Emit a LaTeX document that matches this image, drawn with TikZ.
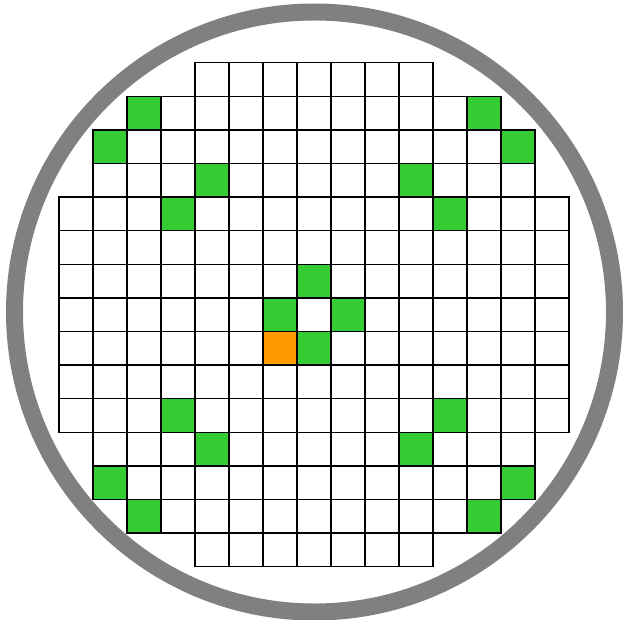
\documentclass[tikz,border=0pt]{standalone}
\definecolor{chipgreen}{RGB}{51,204,51}
\definecolor{chiporange}{RGB}{255,153,0}
\definecolor{wafergray}{RGB}{128,128,128}
\begin{document}
\begin{tikzpicture}[x=1pt,y=-1pt,
  cellbox/.style={draw=black,line width=1.5pt},
  waferring/.style={draw=wafergray,line width=17pt}]
\useasboundingbox (0,0) rectangle (623,620);
\begin{scope}
  \clip (0,0) rectangle (623,620);
  \draw[waferring] (314.5,312) circle[radius=300];
\end{scope}
% coloured dies
\foreach \c/\r in {2/1,12/1,1/2,13/2,4/3,10/3,3/4,11/4,7/6,6/7,8/7,7/8,3/10,11/10,4/11,10/11,1/12,13/12,2/13,12/13}
  \fill[chipgreen] ({59+34*\c},{62.7+33.6*\r}) rectangle ++(34,33.6);
\fill[chiporange] ({59+34*6},{62.7+33.6*8}) rectangle ++(34,33.6);
% grid
\foreach \r/\a/\b in {0/4/10,1/2/12,2/1/13,3/1/13,4/0/14,5/0/14,6/0/14,7/0/14,8/0/14,9/0/14,10/0/14,11/1/13,12/1/13,13/2/12,14/4/10}
  \foreach \c in {\a,...,\b}
    \draw[cellbox] ({59+34*\c},{62.7+33.6*\r}) rectangle ++(34,33.6);
\end{tikzpicture}
\end{document}
